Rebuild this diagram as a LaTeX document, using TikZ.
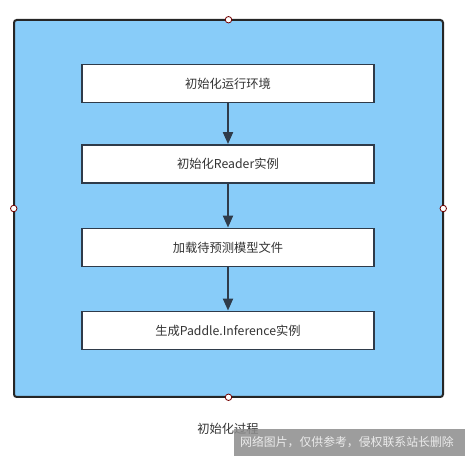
\documentclass[tikz,border=0pt]{standalone}
\usepackage{fontspec}
\setmainfont{Noto Sans CJK SC}
\usetikzlibrary{arrows.meta}
\definecolor{skyfill}{HTML}{88CCF9}
\definecolor{boxline}{HTML}{2F3B4A}
\definecolor{txt}{HTML}{333333}
\begin{document}
\begin{tikzpicture}[x=0.75pt,y=-0.75pt]
	\useasboundingbox (0,0) rectangle (465,456);
	\tikzstyle step box=[draw=boxline,line width=1.4pt,fill=white,minimum width=292*0.75pt,minimum height=38*0.75pt,inner sep=0pt,text=txt,font=\fontsize{9.2}{11}\selectfont]
	\tikzstyle handle=[draw=red!45!black,fill=white,circle,inner sep=0pt,minimum size=6.5*0.75pt,line width=0.6pt]
	\tikzstyle flow=[draw=boxline,line width=1.5pt,-{Triangle[length=9pt,width=7.5pt]}]

	\draw[fill=skyfill,draw=black!85,line width=1.5pt,rounded corners=2pt] (14,20) rectangle (443,397);
	\node (frame) at (228.5,208.5) [minimum width=429*0.75pt,minimum height=377*0.75pt,inner sep=0pt]{};

	\node (s1)[step box] at (228,83.5){初始化运行环境};
	\node (s2)[step box] at (228,164){初始化Reader实例};
	\node (s3)[step box] at (228,247.5){加载待预测模型文件};
	\node (s4)[step box] at (228,330.5){生成Paddle.Inference实例};

	\draw[flow] (s1)--(s2);
	\draw[flow] (s2)--(s3);
	\draw[flow] (s3)--(s4);

	\node (h1)[handle] at (frame.north){};
	\node (h2)[handle] at (frame.south){};
	\node (h3)[handle] at (frame.west){};
	\node (h4)[handle] at (frame.east){};

	\node (title) at (228,429)[text=txt,font=\fontsize{9.2}{11}\selectfont]{初始化过程};

	\fill[black!45,opacity=0.85] (234,429) rectangle (465,456);
	\node (mark) at (347,442.5)[text=white!92!black,font=\fontsize{8.9}{11}\selectfont]{网络图片，仅供参考，侵权联系站长删除};
\end{tikzpicture}
\end{document}
